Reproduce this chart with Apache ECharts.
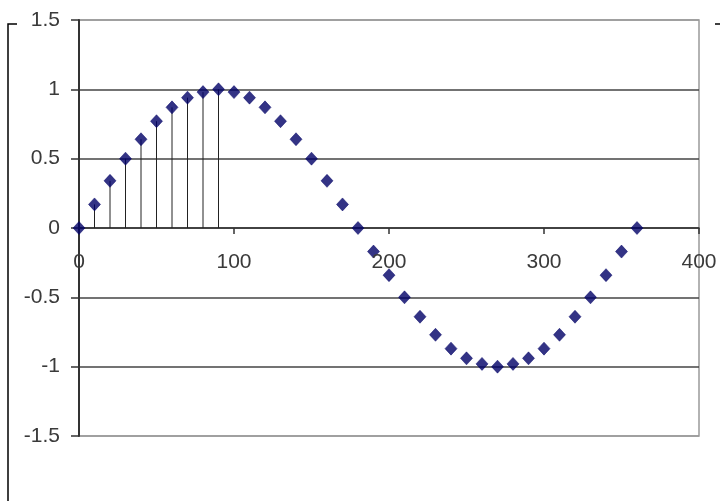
<!DOCTYPE html>
<html>
<head>
<meta charset="utf-8">
<script src="https://cdn.jsdelivr.net/npm/echarts@6/dist/echarts.min.js"></script>
<style>html,body{margin:0;padding:0;background:#fff}#c{width:720px;height:501px}</style>
</head>
<body>
<div id="c"></div>
<script>
var xValues = [0,10,20,30,40,50,60,70,80,90,100,110,120,130,140,150,160,170,180,190,200,210,220,230,240,250,260,270,280,290,300,310,320,330,340,350,360];
var yValues = [0,0.17,0.34,0.5,0.64,0.77,0.87,0.94,0.98,1,0.98,0.94,0.87,0.77,0.64,0.5,0.34,0.17,0,-0.17,-0.34,-0.5,-0.64,-0.77,-0.87,-0.94,-0.98,-1,-0.98,-0.94,-0.87,-0.77,-0.64,-0.5,-0.34,-0.17,0];
var dropCount = 10; // drop lines for the first points (x = 0..90)
var xTicks = [0,100,200,300,400];
var yTicks = [-1.5,-1,-0.5,0,0.5,1,1.5];

var points = xValues.map(function(x,i){return [x,yValues[i]];});
var drops = points.slice(0, dropCount);
var xLabelData = xTicks.map(function(x){return [x,0];});

var chart = echarts.init(document.getElementById('c'));
var font = 'Liberation Sans, Arial, sans-serif';
var labelColor = '#3a3a3a';
chart.setOption({
  animation:false,
  backgroundColor:'#fff',
  grid:{left:79,right:21,top:20,bottom:65,show:true,borderColor:'#9a9a9a',borderWidth:1.5,backgroundColor:'transparent'},
  xAxis:{type:'value',min:xTicks[0],max:xTicks[xTicks.length-1],interval:100,
    axisLine:{onZero:true,lineStyle:{color:'#333',width:1.5}},
    axisTick:{show:true,length:6,lineStyle:{color:'#333',width:1.5}},
    axisLabel:{show:false},
    splitLine:{show:false}},
  yAxis:{type:'value',min:yTicks[0],max:yTicks[yTicks.length-1],interval:0.5,
    axisLine:{show:true,onZero:false,lineStyle:{color:'#333',width:2}},
    axisTick:{show:true,length:8,lineStyle:{color:'#333',width:1.5}},
    axisLabel:{color:labelColor,fontSize:21,fontFamily:font,margin:19},
    splitLine:{show:true,lineStyle:{color:['#9a9a9a','#444','#444','#444','#444','#444','#9a9a9a'],width:1.5}}},
  graphic:[
    {type:'polyline',shape:{points:[[17,24],[8,24],[8,505]]},style:{stroke:'#000',lineWidth:1.5,fill:null},silent:true},
    {type:'line',shape:{x1:715,y1:24,x2:722,y2:24},style:{stroke:'#000',lineWidth:1.5},silent:true}
  ],
  series:[
    {type:'custom',data:drops,z:2,renderItem:function(params,api){
      var p1=api.coord([api.value(0),api.value(1)]);
      var p0=api.coord([api.value(0),0]);
      return {type:'line',shape:{x1:p1[0],y1:p1[1],x2:p0[0],y2:p0[1]},style:{stroke:'#222',lineWidth:1}};
    },encode:{x:0,y:1}},
    {type:'custom',data:xLabelData,z:6,clip:false,renderItem:function(params,api){
      var p=api.coord([api.value(0),api.value(1)]);
      return {type:'text',x:p[0],y:p[1]+34,style:{text:String(api.value(0)),fill:labelColor,font:'21px '+font,align:'center',verticalAlign:'middle'}};
    },encode:{x:0,y:1}},
    {type:'scatter',data:points,symbol:'diamond',symbolSize:[12,13],z:5,itemStyle:{color:'#000066',borderColor:'#000066',borderWidth:0.6}}
  ]
});
</script>
</body>
</html>
